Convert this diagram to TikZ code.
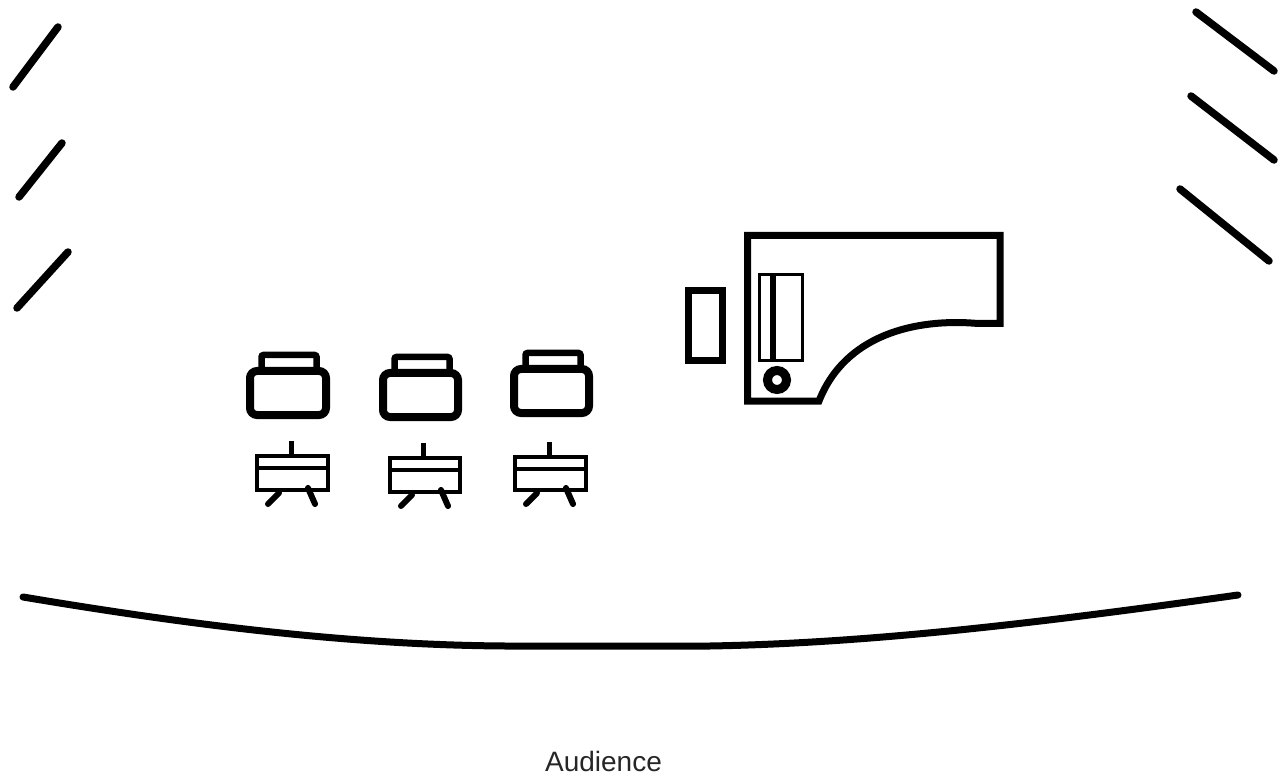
\documentclass[tikz,border=0pt]{standalone}
\usepackage{fontspec}
\setmainfont{Liberation Sans}
\tikzset{
  riser/.style={line width=7.5pt,line cap=round,line join=round},
  edge line/.style={line width=7pt,line cap=round,line join=round},
  chair/.style={line width=8pt,rounded corners=7pt},
  chairback/.style={line width=6.5pt,rounded corners=2pt},
  standbox/.style={line width=4pt},
  standleg/.style={line width=6pt,line cap=round},
  label/.style={font=\fontsize{28}{32}\selectfont,inner sep=0pt,text=black!85}
}
\newcommand{\chairat}[6]{% x0 x1 y0 y1 bx0 bx1
  \draw[chairback] (#5,#3+2) -- (#5,#3-12) -- (#6,#3-12) -- (#6,#3+2);
  \draw[chair] (#1+4,#3+4) rectangle (#2-4,#4-4);
}
\newcommand{\standat}[5]{% x0 x1 y0 y1 stemx
  \draw[standbox] (#1+2,#3+2) rectangle (#2-2,#4-2);
  \draw[standbox] (#1+2,#3+14) -- (#2-2,#3+14);
  \draw[line width=5pt] (#5,#3) -- (#5,#3-13);
  \draw[standleg] (#1+24,#4+1) -- (#1+13,#4+12);
  \draw[standleg] (#1+53,#4-4) -- (#1+60,#4+12);
}
\begin{document}
\begin{tikzpicture}[x=1pt,y=-1pt]
\useasboundingbox (0,0) rectangle (1282,775);
% risers
\draw[riser] (13,87) -- (58,27);
\draw[riser] (19,197) -- (62,143);
\draw[riser] (17,308) -- (68,252);
\draw[riser] (1196,12) -- (1274,71);
\draw[riser] (1191,96) -- (1274,160);
\draw[riser] (1180,189) -- (1269,261);
% stage edge
\draw[edge line] (23,597) .. controls (190,625) and (350,645) .. (505,646) -- (710,646) .. controls (880,643) and (1060,620) .. (1238,595);
% chairs
\chairat{246}{330}{367}{419}{261.5}{316.5}
\chairat{379}{462}{369}{421}{394.5}{449.5}
\chairat{510}{593}{365}{417}{525.5}{580.5}
% stands
\standat{255}{330}{454}{492}{291}
\standat{388}{462}{456}{494}{423}
\standat{513}{588}{455}{492}{549}
% piano
\draw[line width=7pt,line join=miter] (1000,323.5) -- (978,323.5) .. controls (915,318) and (845,335) .. (819,401) -- (747.5,401) -- (747.5,235.5) -- (1000,235.5) -- cycle;
\draw[line width=3pt] (759,275) rectangle (802,361);
\draw[line width=6pt] (773,275) -- (773,361);
\draw[line width=9pt] (777,380) circle (9.5);
% stool
\draw[line width=7pt] (688.5,290.5) rectangle (722.5,360.5);
\node[label] (audience) at (603.5,761) {Audience};
\end{tikzpicture}
\end{document}
